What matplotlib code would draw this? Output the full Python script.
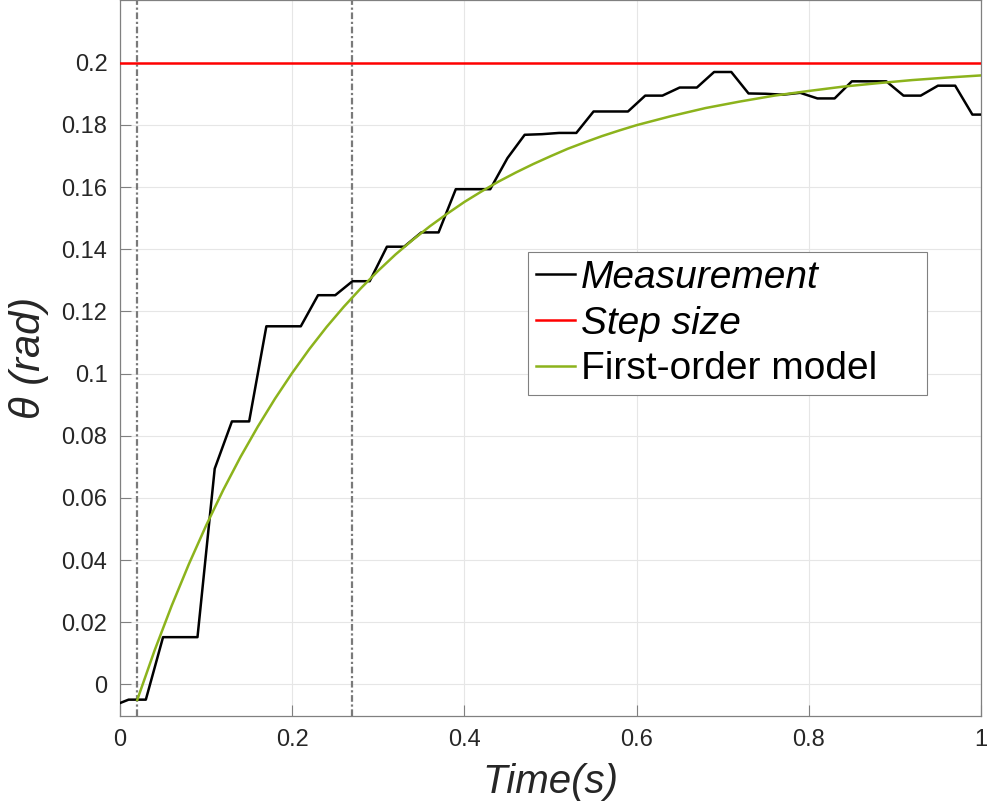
import numpy as np
import matplotlib
matplotlib.use("Agg")
import matplotlib.pyplot as plt

plt.rcParams['font.family'] = ['Liberation Sans', 'DejaVu Sans']

# measured response, sampled every 0.02 s (plus start/end points)
meas_t = [0.0] + [round(0.01 + 0.02 * k, 2) for k in range(50)] + [1.0]
meas_theta = [-0.0060, -0.0049, -0.0049, 0.0152, 0.0152, 0.0152, 0.0694, 0.0846,
              0.0846, 0.1152, 0.1152, 0.1152, 0.1252, 0.1252, 0.1297, 0.1297,
              0.1408, 0.1408, 0.1454, 0.1454, 0.1593, 0.1593, 0.1593, 0.1693,
              0.1768, 0.1770, 0.1774, 0.1774, 0.1843, 0.1843, 0.1843, 0.1894,
              0.1894, 0.1920, 0.1920, 0.1970, 0.1970, 0.1901, 0.1900, 0.1897,
              0.1903, 0.1885, 0.1885, 0.1940, 0.1940, 0.1940, 0.1894, 0.1894,
              0.1926, 0.1926, 0.1833, 0.1833]

# first-order model curve
model_t = [0.02, 0.04, 0.06, 0.08, 0.10, 0.12, 0.14, 0.16, 0.18, 0.20,
           0.22, 0.24, 0.26, 0.28, 0.30, 0.32, 0.34, 0.36, 0.38, 0.40,
           0.42, 0.44, 0.46, 0.48, 0.50, 0.52, 0.54, 0.56, 0.58, 0.60,
           0.64, 0.68, 0.72, 0.76, 0.80, 0.84, 0.88, 0.92, 0.96, 1.00]
model_theta = [-0.0050, 0.0108, 0.0253, 0.0387, 0.0511, 0.0626, 0.0732, 0.0829,
               0.0919, 0.1002, 0.1079, 0.1150, 0.1215, 0.1275, 0.1331, 0.1383,
               0.1430, 0.1474, 0.1514, 0.1552, 0.1586, 0.1618, 0.1647, 0.1674,
               0.1699, 0.1723, 0.1744, 0.1764, 0.1782, 0.1799, 0.1828, 0.1854,
               0.1875, 0.1894, 0.1909, 0.1923, 0.1934, 0.1944, 0.1952, 0.1959]

step_size = 0.2
marker_times = [0.02, 0.27]  # start time and start + time constant

x_ticks = [0, 0.2, 0.4, 0.6, 0.8, 1.0]
y_ticks = [0, 0.02, 0.04, 0.06, 0.08, 0.1, 0.12, 0.14, 0.16, 0.18, 0.2]

axis_grey = '#808080'
text_grey = '#262626'

fig = plt.figure(figsize=(10.03, 8.05), dpi=100)
ax = fig.add_axes([120 / 1003, 1 - 715.5 / 805, 861 / 1003, 715 / 805])

for t in marker_times:
    ax.axvline(t, color='#7a7a7a', lw=1.6, ls=(0, (3, 1.2, 1, 1.2)), zorder=1)

ax.plot(meas_t, meas_theta, color='black', lw=1.8, label='Measurement', zorder=3)
ax.axhline(step_size, color='#ff0000', lw=1.8, label='Step size', zorder=3)
ax.plot(model_t, model_theta, color='#8cb31c', lw=1.8, label='First-order model', zorder=4)

ax.set_xlim(0, 1)
ax.set_ylim(-0.01, 0.22)
ax.set_xticks(x_ticks)
ax.set_yticks(y_ticks)
ax.set_xticklabels(['%g' % v for v in x_ticks])
ax.set_yticklabels(['%g' % v for v in y_ticks])
ax.tick_params(direction='in', length=8, width=0.8, color=axis_grey,
               labelcolor=text_grey, labelsize=17, top=False, right=False)
ax.tick_params(axis='y', pad=9)
ax.tick_params(axis='x', pad=10)
ax.grid(True, color='#e6e6e6', lw=0.8, zorder=0)
ax.set_axisbelow(True)
for sp in ax.spines.values():
    sp.set_color(axis_grey)
    sp.set_linewidth(0.9)

ax.set_xlabel('Time(s)', fontsize=29, style='italic', color=text_grey, labelpad=8)
ax.set_ylabel('θ (rad)', fontsize=30, style='italic', color=text_grey, labelpad=9)

leg = ax.legend(loc='upper left', bbox_to_anchor=(0.474, 0.439, 0.463, 0.209),
                mode='expand', borderaxespad=0,
                fontsize=28, handlelength=1.0, handletextpad=0.15,
                labelspacing=0.25, borderpad=0.2, fancybox=False, framealpha=1)
leg.get_frame().set_edgecolor(axis_grey)
leg.get_frame().set_linewidth(0.8)
leg.get_texts()[0].set_style('italic')
leg.get_texts()[1].set_style('italic')

fig.savefig('out.png', dpi=100)
